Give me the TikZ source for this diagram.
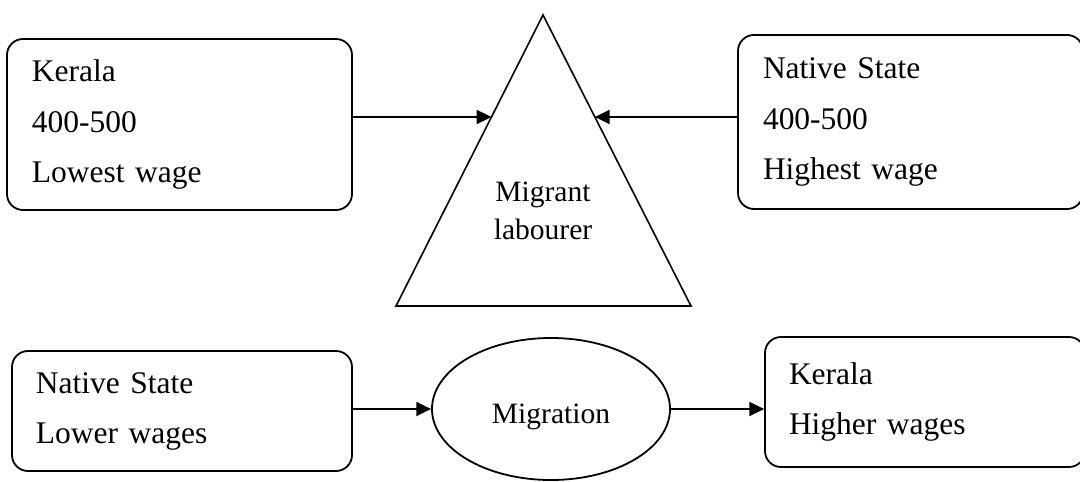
\documentclass[tikz,border=0pt]{standalone}
\usepackage{fontspec}
\setmainfont{Liberation Serif}
\usetikzlibrary{shapes,arrows.meta,calc}

\begin{document}
\begin{tikzpicture}[x=0.25mm, y=-0.25mm,
		box/.style={draw, line width=0.45mm, rounded corners=4mm, align=left, inner xsep=6.25mm, inner ysep=0pt, font=\fontsize{22.4}{35.6}\selectfont},
		arr/.style={line width=0.45mm, -{Triangle[length=3.7mm,width=3.5mm]}}]
		\useasboundingbox (0,0) rectangle (1080,481);
		% top row
		\node[box, text width=73.75mm, minimum height=42.75mm] (kerala1) at (179.5,124.5) {Kerala\\400-500\\Lowest wage};
		\node[box, text width=73.75mm, minimum height=43.5mm] (native1) at (910.5,122) {Native State\\400-500\\Highest wage};
		\coordinate (apex) at (543,15);
		\coordinate (bl) at (396,306);
		\coordinate (br) at (691,306);
		\draw[line width=0.4mm] (apex) -- (bl) -- (br) -- cycle;
		\node[align=center, inner sep=0pt, font=\fontsize{21}{27}\selectfont] (labourer) at (543,211) {Migrant\\labourer};
		\coordinate (inl) at ($(apex)!0.3505!(bl)$);
		\coordinate (inr) at ($(apex)!0.3505!(br)$);
		\draw[arr] (kerala1.east |- inl) -- (inl);
		\draw[arr] (native1.west |- inr) -- (inr);
		% bottom row
		\node[box, text width=73mm, inner xsep=6mm, minimum height=30mm] (native2) at (182,411) {Native State\\Lower wages};
		\node[draw, ellipse, line width=0.45mm, minimum width=59.5mm, minimum height=35.5mm, inner sep=0pt, text height=7mm, text depth=0pt, font=\fontsize{21}{27}\selectfont] (migr) at (551,409) {Migration};
		\node[box, text width=68mm, inner xsep=6mm, minimum height=32.5mm] (kerala2) at (925,402) {Kerala\\Higher wages};
		\draw[arr] (native2.east |- migr.west) -- (migr.west);
		\draw[arr] (migr.east) -- (migr.east -| kerala2.west);
\end{tikzpicture}
\end{document}
